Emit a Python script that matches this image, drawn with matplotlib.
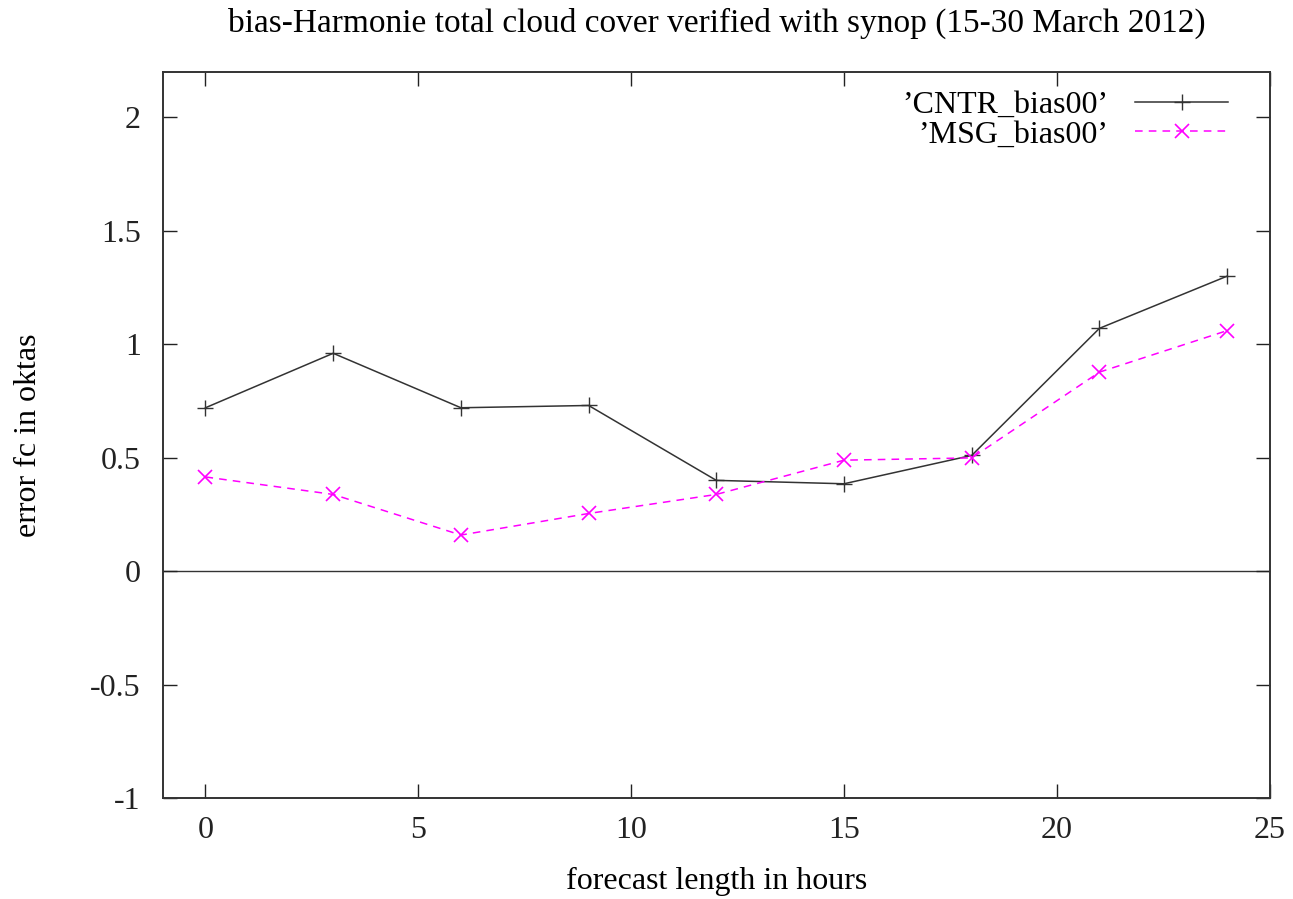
import matplotlib
matplotlib.use("Agg")
import matplotlib.pyplot as plt

# forecast lengths (hours) and bias values
hours = [0, 3, 6, 9, 12, 15, 18, 21, 24]
cntr_bias = [0.72, 0.96, 0.72, 0.73, 0.40, 0.385, 0.51, 1.07, 1.30]
msg_bias = [0.415, 0.338, 0.159, 0.254, 0.338, 0.489, 0.499, 0.877, 1.06]

xticks = [0, 5, 10, 15, 20, 25]
yticks = [-1, -0.5, 0, 0.5, 1, 1.5, 2]
ytick_labels = ["-1", "-0.5", "0", "0.5", "1", "1.5", "2"]

plt.rcParams['font.family'] = ['Liberation Serif', 'DejaVu Serif']
plt.rcParams['font.size'] = 22

fig = plt.figure(figsize=(12.93, 8.99), dpi=100)
ax = fig.add_axes([0.126, 0.1123, 0.856, 0.8077])

# zero axis
ax.axhline(0, color='#333333', lw=1.0, zorder=1)

ax.plot(hours, cntr_bias, color='#333333', lw=1.1, marker='+', ms=11,
        mew=1.0, label='\u2019CNTR_bias00\u2019', zorder=3)
ax.plot(hours, msg_bias, color='#ff00ff', lw=1.1, ls=(0, (5, 4)),
        marker='x', ms=10, mew=1.2, label='\u2019MSG_bias00\u2019', zorder=3)

ax.set_xlim(-1, 25)
ax.set_ylim(-1, 2.2)
ax.set_xticks(xticks)
ax.set_yticks(yticks)
ax.set_yticklabels(ytick_labels)

ax.tick_params(direction='in', length=10, width=1.0, top=True, right=True,
               colors='#222222', labelsize=23)
ax.tick_params(axis='x', pad=13)
ax.tick_params(axis='y', pad=16)
for s in ax.spines.values():
    s.set_linewidth(1.4)
    s.set_color('#333333')

ax.set_xlabel('forecast length in hours', fontsize=23, labelpad=16)
ax.set_ylabel('error fc in oktas', fontsize=23)
ax.yaxis.set_label_coords(-0.108, 0.5)
ax.set_title('bias-Harmonie total cloud cover verified with synop (15-30 March 2012)',
             fontsize=24, pad=29)

leg = ax.legend(loc='upper right', bbox_to_anchor=(0.968, 0.983),
                frameon=False, markerfirst=False, handlelength=2.9,
                handletextpad=0.85, borderaxespad=0, borderpad=0.2,
                labelspacing=0.0, fontsize=23)
for t in leg.get_texts():
    t.set_ha('right')

fig.savefig('out.png', dpi=100)
